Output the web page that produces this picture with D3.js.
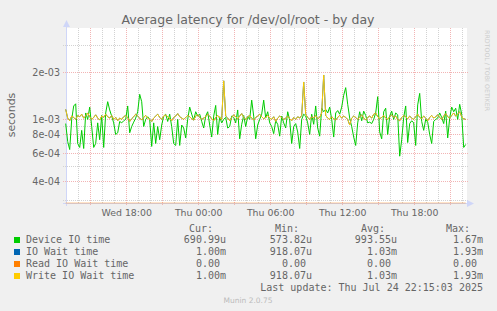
<!DOCTYPE html>
<html>
<head>
<meta charset="utf-8">
<script src="https://cdn.jsdelivr.net/npm/d3@7"></script>
<style>
html,body{margin:0;padding:0;background:#f0f0f0;}
svg{display:block;}
</style>
</head>
<body>
<div id="chart"></div>
<script>
// values in milliseconds, one every 10 minutes
const deviceIoMs = [
  0.94, 0.72, 0.64, 1.0, 1.22, 1.26, 0.7, 0.66, 0.85, 0.65, 1.1,
  1.0, 1.2, 0.9, 0.66, 0.7, 0.95, 0.74, 1.06, 0.66, 1.1,
  1.3, 1.15, 1.05, 0.95, 0.8, 0.82, 0.97, 0.95, 0.98, 1.0,
  1.22, 0.82, 0.9, 0.96, 1.02, 1.12, 1.45, 1.3, 0.9, 1.0,
  1.04, 1.0, 0.67, 0.95, 0.7, 0.9, 0.74, 0.92, 1.05, 1.08,
  0.97, 1.08, 0.9, 0.7, 0.68, 1.0, 0.68, 0.92, 0.88, 0.76,
  1.0, 1.2, 1.08, 0.99, 1.12, 1.05, 1.08, 0.97, 0.88, 1.05,
  1.12, 0.92, 0.77, 1.05, 1.23, 0.8, 1.04, 0.95, 1.0, 1.03,
  0.88, 0.9, 1.05, 1.03, 0.95, 1.15, 0.75, 0.93, 1.06, 0.9,
  1.04, 1.0, 1.33, 1.05, 0.75, 0.92, 1.0, 1.08, 1.33, 1.02,
  1.12, 0.95, 0.9, 0.81, 0.98, 0.93, 0.78, 1.05, 0.95, 0.88,
  1.12, 0.99, 0.7, 0.9, 0.94, 0.83, 0.65, 1.0, 1.08, 1.05,
  0.95, 0.8, 1.08, 0.93, 1.22, 0.88, 0.78, 1.18, 1.12, 1.16,
  1.1, 1.2, 1.0, 0.77, 1.1, 1.14, 1.08, 1.2, 1.43, 1.6,
  1.25, 1.02, 0.9, 0.77, 0.68, 0.95, 1.12, 0.98, 1.13, 1.06,
  0.95, 0.96, 0.94, 1.0, 1.1, 1.4, 0.83, 0.75, 1.12, 1.18,
  0.8, 1.05, 1.13, 1.0, 1.1, 1.07, 0.58, 0.74, 1.03, 1.22,
  0.71, 0.94, 0.98, 0.95, 0.68, 1.24, 1.47, 0.97, 0.85, 1.0,
  0.96, 0.8, 0.7, 0.97, 1.0, 1.02, 1.1, 1.03, 0.94, 1.13,
  0.76, 1.02, 1.2, 1.12, 1.18, 1.0, 1.25, 1.08, 0.66, 0.69
];

const writeIoMs = [
  1.16, 1.02, 0.98, 1.05, 1.03, 1.0, 1.06, 1.04, 1.08, 1.02,
  1.05, 1.1, 1.04, 1.0, 1.03, 1.07, 1.02, 0.99, 1.05, 1.03,
  1.08, 1.04, 1.02, 1.06, 1.0, 1.03, 0.98, 1.02, 1.0, 1.04,
  1.06, 1.03, 0.97, 1.01, 1.04, 1.08, 1.05, 1.02, 0.99, 1.03,
  1.06, 1.02, 1.0, 0.97, 1.02, 1.05, 1.08, 1.03, 1.0, 1.05,
  1.07, 1.04, 1.01, 0.98, 1.03, 1.05, 1.09, 1.04, 1.02, 1.0,
  1.03, 1.06, 1.04, 1.01, 0.99, 1.05, 1.07, 1.03, 1.0, 1.02,
  1.04, 1.08, 1.05, 1.01, 0.98, 1.03, 1.06, 1.02, 1.0, 1.77,
  1.05, 1.02, 0.98, 1.03, 1.07, 1.04, 1.01, 1.05, 1.09, 1.03,
  1.0, 1.04, 1.06, 1.02, 0.99, 1.03, 1.05, 1.08, 1.04, 1.01,
  1.03, 1.06, 1.02, 1.0, 1.04, 0.97, 1.02, 1.05, 1.03, 1.0,
  1.02, 1.05, 1.01, 0.98, 1.03, 1.0, 1.04, 1.02, 1.06, 1.74,
  1.08, 1.03, 1.0, 1.04, 1.02, 1.06, 1.01, 1.03, 1.1, 1.93,
  1.06, 1.02, 1.0, 1.04, 1.01, 0.99, 1.03, 1.06, 1.02, 1.05,
  1.03, 1.0, 0.92, 1.02, 1.05, 1.03, 1.0, 1.04, 1.07, 1.02,
  0.99, 1.03, 1.05, 1.02, 1.08, 1.1, 1.04, 1.01, 1.03, 1.06,
  1.02, 1.0, 1.04, 1.07, 1.03, 1.05, 1.0, 0.98, 1.03, 1.06,
  1.04, 1.01, 1.05, 1.02, 1.0, 1.04, 1.08, 1.03, 1.01, 1.05,
  1.02, 0.98, 1.03, 1.06, 1.02, 1.04, 1.07, 1.03, 1.0, 1.05,
  1.09, 1.04, 1.02, 1.06, 1.1, 1.05, 1.08, 1.12, 1.04, 1.01,
  1.0
];

// io wait equals write wait here, read wait stays at 0
const ioWaitMs = writeIoMs.slice();
const readIoMs = new Array(writeIoMs.length).fill(0);

const seriesNames = ['Device IO time', 'IO Wait time', 'Read IO Wait time', 'Write IO Wait time'];
const seriesColors = ['#00CC00', '#0066B3', '#FF8000', '#FFCC00'];
const statCur = ['690.99u', '1.00m', '0.00', '1.00m'];
const statMin = ['573.82u', '918.07u', '0.00', '918.07u'];
const statAvg = ['993.55u', '1.03m', '0.00', '1.03m'];
const statMax = ['1.67m', '1.93m', '0.00', '1.93m'];

const yMajorTicks = [2e-3, 1e-3, 8e-4, 6e-4, 4e-4];
const yMajorLabels = ['2e-03', '1e-03', '8e-04', '6e-04', '4e-04'];
const yMinorTicks = [3e-3, 9e-4, 7e-4, 5e-4, 3e-4];

const endTime = new Date(2025, 6, 24, 22, 15);
const stepMinutes = 10;

const W = 497, H = 311;
const margin = {top: 28, bottom: 203, left: 66, right: 467};

const svg = d3.select('#chart').append('svg')
  .attr('width', W)
  .attr('height', H)
  .style('font-family', '"DejaVu Sans", sans-serif');

svg.append('rect').attr('width', W).attr('height', H).attr('fill', '#f0f0f0');

const startTime = d3.timeMinute.offset(endTime, -(deviceIoMs.length - 1) * stepMinutes);
const times = deviceIoMs.map((d, i) => d3.timeMinute.offset(startTime, i * stepMinutes));

const xScale = d3.scaleTime().domain([startTime, endTime]).range([65.7, 465.7]);
const yScale = d3.scaleLog().domain([2.9e-4, 3.87e-3]).range([margin.bottom, margin.top]);

// canvas
svg.append('rect')
  .attr('x', margin.left).attr('y', margin.top)
  .attr('width', margin.right - margin.left)
  .attr('height', margin.bottom - margin.top)
  .attr('fill', '#ffffff');

const grid = svg.append('g').attr('shape-rendering', 'crispEdges');
const px = v => Math.floor(v) + 0.5;
const minorColor = '#d2d2d2';
const majorColor = '#f2b4b4';

// horizontal grid
grid.selectAll('.hminor').data(yMinorTicks).enter().append('line')
  .attr('x1', 63).attr('x2', 469)
  .attr('y1', d => px(yScale(d))).attr('y2', d => px(yScale(d)))
  .attr('stroke', minorColor).attr('stroke-dasharray', '1,1');

grid.selectAll('.hmajor').data(yMajorTicks).enter().append('line')
  .attr('x1', 63).attr('x2', 469)
  .attr('y1', d => px(yScale(d))).attr('y2', d => px(yScale(d)))
  .attr('stroke', majorColor).attr('stroke-dasharray', '1,1');

// vertical grid: every hour, red every 3 hours
const hours = d3.timeHour.range(startTime, endTime);
grid.selectAll('.vgrid').data(hours).enter().append('line')
  .attr('x1', d => px(xScale(d))).attr('x2', d => px(xScale(d)))
  .attr('y1', margin.top).attr('y2', d => d.getHours() % 3 === 0 ? 206 : margin.bottom)
  .attr('stroke', d => d.getHours() % 3 === 0 ? majorColor : minorColor)
  .attr('stroke-dasharray', '1,1');

// axes
const axisColor = '#cfd6f8';
svg.append('line').attr('x1', 66.5).attr('x2', 66.5).attr('y1', 206).attr('y2', 24)
  .attr('stroke', axisColor);
svg.append('polygon').attr('points', '63,27 66.5,20 70,27').attr('fill', axisColor);
svg.append('line').attr('x1', 63).attr('x2', 469).attr('y1', 203.5).attr('y2', 203.5)
  .attr('stroke', axisColor);
svg.append('polygon').attr('points', '467,200 474,203.5 467,207').attr('fill', axisColor);

// series
const yMin = yScale.domain()[0];
const line = d3.line()
  .x((d, i) => xScale(times[i]))
  .y(d => yScale(Math.max(d * 1e-3, yMin)));

const seriesData = [deviceIoMs, ioWaitMs, readIoMs, writeIoMs];
svg.append('g').selectAll('path').data(seriesData).enter().append('path')
  .attr('d', d => line(d))
  .attr('fill', 'none')
  .attr('stroke', (d, i) => seriesColors[i])
  .attr('stroke-opacity', (d, i) => i === 2 ? 0.45 : 1)
  .attr('stroke-width', 1);

// tick labels
const textColor = '#666666';
svg.append('g').selectAll('text').data(yMajorTicks).enter().append('text')
  .attr('x', 60).attr('y', d => yScale(d) + 3.5)
  .attr('text-anchor', 'end')
  .attr('font-size', 9.6).attr('fill', textColor)
  .text((d, i) => yMajorLabels[i]);

const labelHours = hours.filter(d => d.getHours() % 6 === 0);
svg.append('g').selectAll('text').data(labelHours).enter().append('text')
  .attr('x', d => xScale(d)).attr('y', 216)
  .attr('text-anchor', 'middle')
  .attr('font-size', 9.4).attr('fill', textColor)
  .text(d => d3.timeFormat('%a %H:%M')(d));

// title and axis label
svg.append('text').attr('x', 248).attr('y', 23.5)
  .attr('text-anchor', 'middle').attr('font-size', 12.5).attr('fill', textColor)
  .text('Average latency for /dev/ol/root - by day');

svg.append('text').attr('transform', 'translate(15,115) rotate(-90)')
  .attr('text-anchor', 'middle').attr('font-size', 10.9).attr('fill', textColor)
  .text('seconds');

svg.append('text').attr('transform', 'translate(485,30) rotate(90)')
  .attr('font-size', 6.3).attr('fill', '#cccccc')
  .text('RRDTOOL / TOBI OETIKER');

// legend
const legend = svg.append('g')
  .style('font-family', '"DejaVu Sans Mono", monospace')
  .attr('font-size', 10).attr('fill', textColor);

const headX = [213, 299, 385, 470];
const valX = [226, 312, 397, 483];
['Cur:', 'Min:', 'Avg:', 'Max:'].forEach((h, j) => {
  legend.append('text').attr('x', headX[j]).attr('y', 231.5)
    .attr('text-anchor', 'end').text(h);
});

const charW = 6.02;
const rowY = [243, 255, 267, 279];
seriesNames.forEach((name, i) => {
  legend.append('rect').attr('x', 14).attr('y', rowY[i] - 6)
    .attr('width', 6).attr('height', 6).attr('fill', seriesColors[i]);
  legend.append('text').attr('x', 26).attr('y', rowY[i]).text(name);
  [statCur, statMin, statAvg, statMax].forEach((col, j) => {
    const v = col[i];
    const hasUnit = /[a-z]$/.test(v);
    legend.append('text')
      .attr('x', valX[j] - (hasUnit ? 0 : charW))
      .attr('y', rowY[i])
      .attr('text-anchor', 'end')
      .text(v);
  });
});

legend.append('text').attr('x', 483).attr('y', 291).attr('text-anchor', 'end')
  .text('Last update: Thu Jul 24 22:15:03 2025');

svg.append('text').attr('x', 248).attr('y', 303)
  .attr('text-anchor', 'middle').attr('font-size', 7.5).attr('fill', '#bbbbbb')
  .text('Munin 2.0.75');
</script>
</body>
</html>
